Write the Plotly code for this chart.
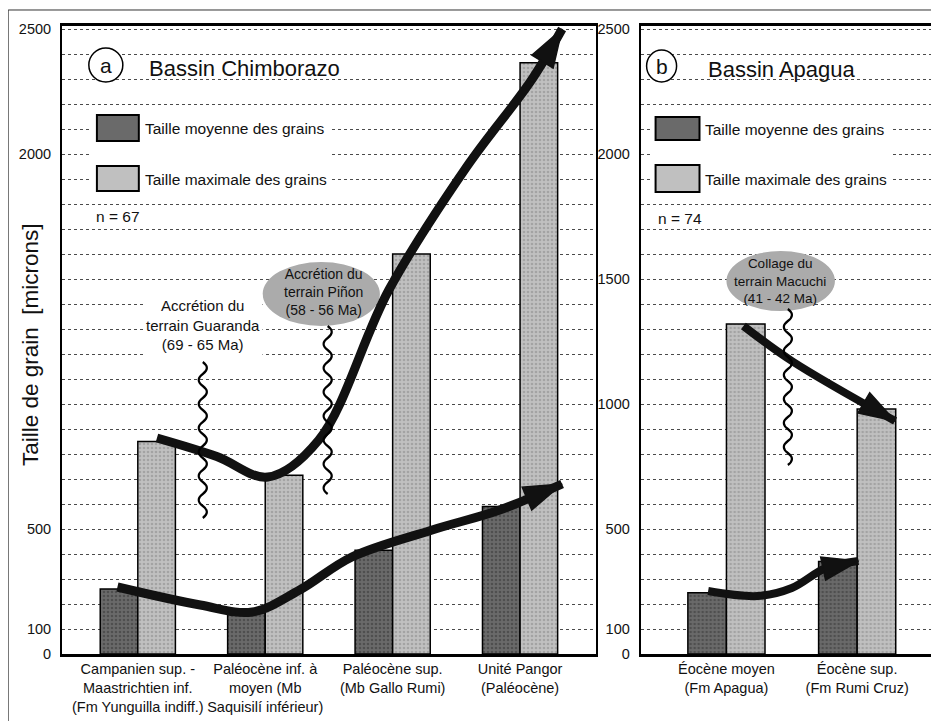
import plotly.graph_objects as go

# ---------------- data ----------------
cats_a = ["Campanien sup. -<br>Maastrichtien inf.<br>(Fm Yunguilla indiff.)",
          "Paléocène inf. à<br>moyen (Mb<br>Saquisilí inférieur)",
          "Paléocène sup.<br>(Mb Gallo Rumi)",
          "Unité Pangor<br>(Paléocène)"]
mean_a = [260, 165, 415, 590]
max_a = [850, 715, 1600, 2365]

cats_b = ["Éocène moyen<br>(Fm Apagua)", "Éocène sup.<br>(Fm Rumi Cruz)"]
mean_b = [245, 370]
max_b = [1320, 980]

ytick_vals = list(range(0, 2600, 100))
ylabels_a = [0, 100, 500, 2000, 2500]
ylabels_b = [0, 100, 500, 1000, 1500, 2000, 2500]

# trend arrows (waypoints, x = category index, y = microns)
trend_max_a_x = [0.15, 0.62, 1.02, 1.42, 1.97, 2.58, 3.09, 3.33]
trend_max_a_y = [864, 790, 708, 856, 1456, 1948, 2296, 2500]
trend_mean_a_x = [-0.16, 0.49, 0.90, 1.27, 1.68, 2.31, 2.84, 3.33]
trend_mean_a_y = [268, 196, 168, 256, 388, 496, 576, 680]
trend_max_b_x = [0.13, 0.50, 1.29]
trend_max_b_y = [1312, 1172, 932]
trend_mean_b_x = [-0.14, 0.24, 0.50, 0.76, 1.01]
trend_mean_b_y = [252, 232, 264, 344, 372]

leg_mean = "Taille moyenne des grains"
leg_max = "Taille maximale des grains"

FONT = "Liberation Sans, Arial, sans-serif"
DARK_BG, DARK_FG = "#6a6a6a", "#333333"
LIGHT_BG, LIGHT_FG = "#c0c0c0", "#858585"
ARROW = "#111111"

idx_a = list(range(len(cats_a)))
idx_b = list(range(len(cats_b)))

fig = go.Figure()


def bar(x, y, name, bg, fg, xa, ya):
    return go.Bar(x=x, y=y, name=name, xaxis=xa, yaxis=ya, showlegend=False,
                  marker=dict(color=bg, line=dict(color="black", width=1.5),
                              pattern=dict(shape=".", bgcolor=bg, fgcolor=fg,
                                           size=4, solidity=0.35)),
                  hoverinfo="skip")


fig.add_trace(bar(idx_a, mean_a, leg_mean, DARK_BG, DARK_FG, "x", "y"))
fig.add_trace(bar(idx_a, max_a, leg_max, LIGHT_BG, LIGHT_FG, "x", "y"))
fig.add_trace(bar(idx_b, mean_b, leg_mean, DARK_BG, DARK_FG, "x2", "y2"))
fig.add_trace(bar(idx_b, max_b, leg_max, LIGHT_BG, LIGHT_FG, "x2", "y2"))


def arrow(x, y, xa, ya, width=9, head=40):
    sizes = [0] * (len(x) - 1) + [head]
    return go.Scatter(x=x, y=y, xaxis=xa, yaxis=ya, mode="lines+markers",
                      line=dict(shape="spline", width=width, color=ARROW),
                      marker=dict(symbol="arrow", size=sizes, angleref="previous",
                                  color=ARROW, opacity=1,
                                  line=dict(color=ARROW, width=1.5)),
                      cliponaxis=False, showlegend=False, hoverinfo="skip")


fig.add_trace(arrow(trend_max_a_x, trend_max_a_y, "x", "y"))
fig.add_trace(arrow(trend_mean_a_x, trend_mean_a_y, "x", "y"))
fig.add_trace(arrow(trend_max_b_x, trend_max_b_y, "x2", "y2", width=8, head=38))
fig.add_trace(arrow(trend_mean_b_x, trend_mean_b_y, "x2", "y2", width=8, head=38))


def squiggle(xc, ytop, ybot, amp, step):
    p = f"M{xc},{ytop}"
    y = ytop
    s = 1
    while y - step >= ybot - 1e-9:
        ym, yn = y - step / 2, y - step
        p += f" Q{xc + s * amp * 2},{ym} {xc},{yn}"
        y = yn
        s = -s
    return p


shapes = []
# legend white boxes
shapes.append(dict(type="rect", xref="x", yref="y", x0=-0.376, x1=1.519, y0=1828, y1=2184,
                   fillcolor="white", line=dict(width=0), layer="above"))
shapes.append(dict(type="rect", xref="x2", yref="y2", x0=-0.58, x1=1.26, y0=1824, y1=2180,
                   fillcolor="white", line=dict(width=0), layer="above"))
# legend swatches
shapes.append(dict(type="rect", xref="x", yref="y", x0=-0.321, x1=0.008, y0=2052, y1=2156,
                   fillcolor="#6a6a6a", line=dict(color="black", width=2), layer="above"))
shapes.append(dict(type="rect", xref="x", yref="y", x0=-0.321, x1=0.008, y0=1852, y1=1952,
                   fillcolor="#c0c0c0", line=dict(color="black", width=2), layer="above"))
shapes.append(dict(type="rect", xref="x2", yref="y2", x0=-0.542, x1=-0.206, y0=2056, y1=2148,
                   fillcolor="#6a6a6a", line=dict(color="black", width=2), layer="above"))
shapes.append(dict(type="rect", xref="x2", yref="y2", x0=-0.542, x1=-0.206, y0=1848, y1=1956,
                   fillcolor="#c0c0c0", line=dict(color="black", width=2), layer="above"))
# panel letter circles
shapes.append(dict(type="circle", xref="x", yref="y", xsizemode="pixel", ysizemode="pixel",
                   xanchor=-0.251, yanchor=2356, x0=-17, x1=17, y0=-17, y1=17,
                   fillcolor="white", line=dict(color="black", width=1.5), layer="above"))
shapes.append(dict(type="circle", xref="x2", yref="y2", xsizemode="pixel", ysizemode="pixel",
                   xanchor=-0.496, yanchor=2352, x0=-15, x1=15, y0=-16, y1=16,
                   fillcolor="white", line=dict(color="black", width=1.5), layer="above"))
# ellipses
shapes.append(dict(type="circle", xref="x", yref="y", x0=0.98, x1=1.90, y0=1312, y1=1568,
                   fillcolor="#ababab", line=dict(width=0), layer="between"))
shapes.append(dict(type="circle", xref="x2", yref="y2", x0=0.0, x1=0.83, y0=1372, y1=1612,
                   fillcolor="#ababab", line=dict(width=0), layer="between"))
# squiggles
shapes.append(dict(type="path", xref="x", yref="y", path=squiggle(0.51, 1168, 504, 0.032, 48),
                   line=dict(color="black", width=2.2), layer="above"))
shapes.append(dict(type="path", xref="x", yref="y", path=squiggle(1.49, 1312, 616, 0.032, 48),
                   line=dict(color="black", width=2.2), layer="above"))
shapes.append(dict(type="path", xref="x2", yref="y2", path=squiggle(0.47, 1380, 720, 0.031, 48),
                   line=dict(color="black", width=2.2), layer="above"))
# scan frame
shapes.append(dict(type="line", xref="paper", yref="paper", x0=-0.0616, x1=0.999, y0=1.0255, y1=1.0255,
                   line=dict(color="#333", width=1)))
shapes.append(dict(type="line", xref="paper", yref="paper", x0=-0.0616, x1=-0.0616, y0=-0.11, y1=1.0255,
                   line=dict(color="#333", width=1)))

TXT = "#111111"
ann = []
ann.append(dict(text="a", xref="x", yref="y", x=-0.251, y=2356, showarrow=False,
                font=dict(size=21, color=TXT)))
ann.append(dict(text="b", xref="x2", yref="y2", x=-0.496, y=2352, showarrow=False,
                font=dict(size=21, color=TXT)))
ann.append(dict(text="Bassin Chimborazo", xref="x", yref="y", x=0.07, y=2344, xanchor="left",
                showarrow=False, font=dict(size=22, color=TXT)))
ann.append(dict(text="Bassin Apagua", xref="x2", yref="y2", x=-0.153, y=2340, xanchor="left",
                showarrow=False, font=dict(size=22, color=TXT)))
for xa, ya, x, y1, y2 in [("x", "y", 0.039, 2104, 1900), ("x2", "y2", -0.183, 2100, 1900)]:
    ann.append(dict(text=leg_mean, xref=xa, yref=ya, x=x, y=y1, xanchor="left", showarrow=False,
                    font=dict(size=15.5, color=TXT)))
    ann.append(dict(text=leg_max, xref=xa, yref=ya, x=x, y=y2, xanchor="left", showarrow=False,
                    font=dict(size=15.5, color=TXT)))
ann.append(dict(text="n = 67", xref="x", yref="y", x=-0.34, y=1752, xanchor="left", showarrow=False,
                font=dict(size=15.5, color=TXT)))
ann.append(dict(text="n = 74", xref="x2", yref="y2", x=-0.542, y=1744, xanchor="left", showarrow=False,
                font=dict(size=15.5, color=TXT)))
ann.append(dict(text="Accrétion du<br>terrain Guaranda<br>(69 - 65 Ma)", xref="x", yref="y",
                x=0.51, y=1316, showarrow=False, bgcolor="white", borderpad=2,
                font=dict(size=15, color=TXT)))
ann.append(dict(text="Accrétion du<br>terrain Piñon<br>(58 - 56 Ma)", xref="x", yref="y",
                x=1.46, y=1450, showarrow=False, font=dict(size=14, color=TXT)))
ann.append(dict(text="Collage du<br>terrain Macuchi<br>(41 - 42 Ma)", xref="x2", yref="y2",
                x=0.41, y=1492, showarrow=False, font=dict(size=13.5, color=TXT)))
ann.append(dict(text="Taille de grain  [microns]", xref="paper", yref="paper", x=-0.0365, y=0.492,
                xanchor="center", yanchor="middle",
                textangle=-90, showarrow=False, font=dict(size=22.5, color=TXT)))

yaxis_common = dict(range=[0, 2512], tickvals=ytick_vals, showgrid=True, gridcolor="#4a4a4a",
                    griddash="dot", gridwidth=1, zeroline=False, showline=True, linecolor="black",
                    linewidth=2, mirror=True, ticks="", ticklabelstandoff=6,
                    tickfont=dict(size=14.5, color=TXT))
xaxis_common = dict(showgrid=False, zeroline=False, showline=True, linecolor="black", linewidth=2.5,
                    mirror=True, ticks="", tickfont=dict(size=14.5, color=TXT), ticklabelstandoff=0)

# the page adds an 8px body margin, so the figure is 8px smaller and shifted accordingly
fig.update_layout(
    width=931, height=713, autosize=False,
    margin=dict(l=54, r=1, t=18, b=67),
    paper_bgcolor="white", plot_bgcolor="white",
    font=dict(family=FONT, color=TXT),
    barmode="group", bargap=0.41, bargroupgap=0,
    xaxis=dict(domain=[0, 0.6107], range=[-0.595, 3.594], tickvals=idx_a, ticktext=cats_a,
               **xaxis_common),
    xaxis2=dict(domain=[0.6621, 1], range=[-0.656, 1.603], tickvals=idx_b, ticktext=cats_b,
                anchor="y2", **xaxis_common),
    yaxis=dict(ticktext=[str(v) if v in ylabels_a else "" for v in ytick_vals], **yaxis_common),
    yaxis2=dict(ticktext=[str(v) if v in ylabels_b else "" for v in ytick_vals], anchor="x2",
                **yaxis_common),
    shapes=shapes, annotations=ann,
)

fig.write_html("out.html")
